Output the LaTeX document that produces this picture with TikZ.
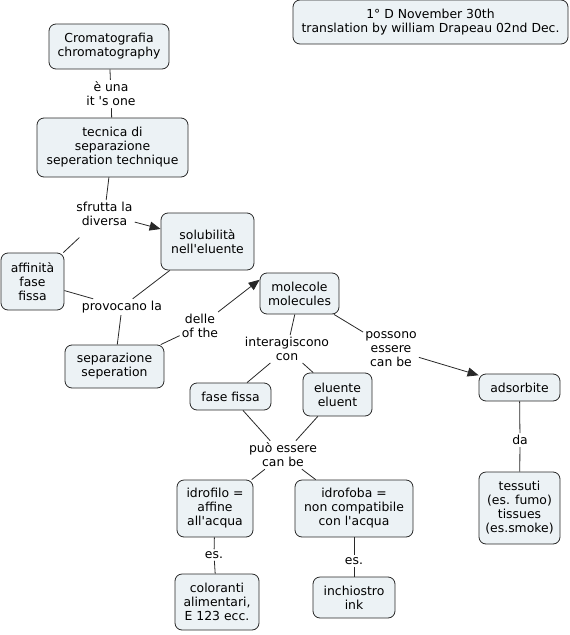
\documentclass[tikz,border=0pt]{standalone}
\usepackage{fontspec}
\setmainfont{DejaVu Sans}
\usetikzlibrary{arrows.meta}
\definecolor{boxfill}{RGB}{236,242,245}
\definecolor{boxline}{RGB}{40,40,40}
\definecolor{linkc}{RGB}{40,40,40}
\newcommand{\apo}{\textquotesingle}
\begin{document}
\begin{tikzpicture}[x=1pt,y=-1pt, font=\fontsize{12.4}{14}\selectfont,
  concept/.style={draw=boxline, fill=boxfill, rounded corners=7pt, align=center, inner sep=0pt, line width=0.8pt},
  lab/.style={align=center, inner sep=2pt},
  link/.style={draw=linkc, line width=0.8pt},
  arr/.style={link, -{Triangle[length=11pt,width=9pt]}}]
\useasboundingbox (0,0) rectangle (570,635);
% concepts
\node[concept, minimum width=275pt, minimum height=44pt] (title) at (430.5,22) {1° D November 30th\\translation by william Drapeau 02nd Dec.};
\node[concept, minimum width=120pt, minimum height=45pt] (crom) at (109,46.5) {Cromatografia\\chromatography};
\node[concept, minimum width=151pt, minimum height=59pt] (tec) at (112.5,147.5) {tecnica di\\separazione\\seperation technique};
\node[concept, minimum width=93pt, minimum height=57pt] (sol) at (207.5,241.5) {solubilità\\nell\apo eluente};
\node[concept, minimum width=63pt, minimum height=57pt] (aff) at (32.5,281.5) {affinità\\fase\\fissa};
\node[concept, minimum width=99pt, minimum height=43pt] (sep) at (114.5,366.5) {separazione\\seperation};
\node[concept, minimum width=79pt, minimum height=41pt] (mol) at (299.5,293.5) {molecole\\molecules};
\node[concept, minimum width=81pt, minimum height=27pt] (ads) at (519.5,387.5) {adsorbite};
\node[concept, minimum width=81pt, minimum height=72pt] (tes) at (519.5,508) {tessuti\\(es. fumo)\\tissues\\(es.smoke)};
\node[concept, minimum width=81pt, minimum height=27pt] (ff) at (230.5,396.5) {fase fissa};
\node[concept, minimum width=69pt, minimum height=43pt] (elu) at (337.5,394.5) {eluente\\eluent};
\node[concept, minimum width=76pt, minimum height=57pt] (idfil) at (215,508.5) {idrofilo =\\affine\\all\apo acqua};
\node[concept, minimum width=118pt, minimum height=57pt] (idfob) at (354,508.5) {idrofoba =\\non compatibile\\con l\apo acqua};
\node[concept, minimum width=84pt, minimum height=56pt] (col) at (217,602) {coloranti\\alimentari,\\E 123 ecc.};
\node[concept, minimum width=82pt, minimum height=41pt] (ink) at (354,597.5) {inchiostro\\ink};
% linking phrases
\node[lab] (l1) at (111,94) {è una\\it \apo s one};
\node[lab] (l2) at (104.5,214) {sfrutta la\\diversa};
\node[lab] (l3) at (122,307) {provocano la};
\node[lab] (l4) at (200,326) {delle\\of the};
\node[lab] (l5) at (287,349) {interagiscono\\con};
\node[lab] (l6) at (391,349) {possono\\essere\\can be};
\node[lab] (l7) at (520,440) {da};
\node[lab] (l8) at (283,455) {può essere\\can be};
\node[lab] (l9) at (214,555) {es.};
\node[lab] (l10) at (354,561) {es.};
% connectors
\draw[link] (crom) -- (l1);
\draw[link] (l1) -- (tec);
\draw[link] (tec) -- (l2);
\draw[arr] (l2) -- (sol);
\draw[link, shorten <=14pt] (l2) -- (aff);
\draw[link] (aff) -- (l3);
\draw[link] (sol) -- (l3);
\draw[link] (l3) -- (sep);
\draw[link] (sep) -- (l4);
\draw[arr] (l4) -- (mol.161);
\draw[link] (mol) -- (l5);
\draw[link] (l5) -- (ff);
\draw[link] (l5) -- (elu);
\draw[link] (mol) -- (l6);
\draw[arr] (l6) -- (ads);
\draw[link] (ads) -- (l7);
\draw[link] (l7) -- (tes);
\draw[link] (ff) -- (l8);
\draw[link] (elu) -- (l8);
\draw[link] (l8) -- (idfil);
\draw[link] (l8) -- (idfob);
\draw[link] (idfil) -- (l9);
\draw[link] (l9) -- (col);
\draw[link] (idfob) -- (l10);
\draw[link] (l10) -- (ink);
\end{tikzpicture}
\end{document}
